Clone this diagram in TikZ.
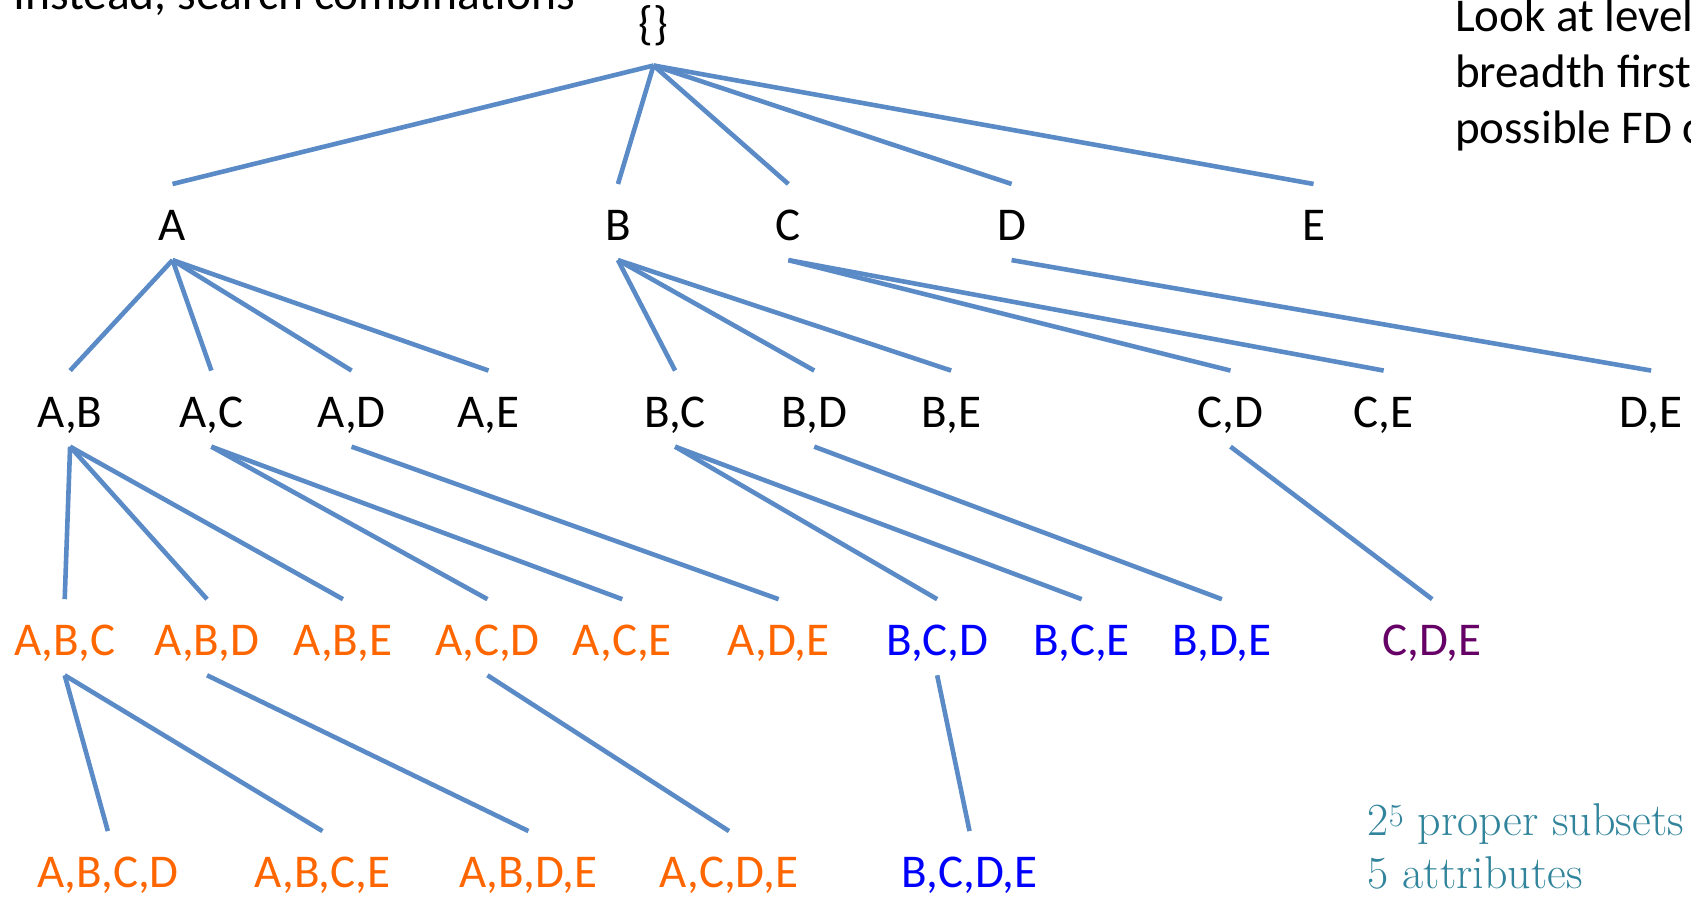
\documentclass[tikz,border=0pt]{standalone}
\usepackage{fontspec}
\setmainfont{Carlito}
\newfontfamily\garfont{Latin Modern Roman}
\definecolor{edgeblue}{HTML}{5B8BC6}
\definecolor{lorange}{HTML}{FF6600}
\definecolor{lblue}{HTML}{0000FF}
\definecolor{lpurple}{HTML}{660066}
\definecolor{lteal}{HTML}{31849B}
\newcommand\edge[2]{\draw[edge] ([yshift=-19.4pt]#1.south) -- ([yshift=26pt]#2.north);}
\begin{document}
\begin{tikzpicture}[x=1.0784pt,y=-1.0784pt,
  lbl/.style={anchor=base,inner sep=0pt,text height=30.3pt,text depth=0pt,font=\fontsize{47}{56}\selectfont},
  orng/.style={lbl,text=lorange},
  blu/.style={lbl,text=lblue},
  purp/.style={lbl,text=lpurple},
  edge/.style={draw=edgeblue,line width=4.6pt},
  note/.style={anchor=base west,inner sep=0pt,align=left}]
\useasboundingbox (0,0) rectangle (1568,833);
\clip (0,0) rectangle (1568,833);
% notes
\node[note,font=\fontsize{47.5}{56}\selectfont] (n1) at (12,9) {Instead, search combinations};
\node[note,font=\fontsize{47}{55.5}\selectfont] (n2) at (1349,132.6) {Look at levels\\breadth first\\possible FD c};
\node[note,font=\garfont\fontsize{46}{50}\selectfont,text=lteal] (n3) at (1268,775) {2\textsuperscript{5} proper subsets};
\node[note,font=\garfont\fontsize{46}{50}\selectfont,text=lteal] (n4) at (1268,824) {5 attributes};
% root
\node[lbl,text depth=6pt] (r) at (606,37) {\{\}};
% level 1
\node[lbl] (A) at (160,223) {A};
\node[lbl] (B) at (573,223) {B};
\node[lbl] (C) at (731,223) {C};
\node[lbl] (D) at (938,223) {D};
\node[lbl] (E) at (1218,223) {E};
% level 2
\node[lbl] (AB) at (65,396) {A,B};
\node[lbl] (AC) at (196,396) {A,C};
\node[lbl] (AD) at (326,396) {A,D};
\node[lbl] (AE) at (453,396) {A,E};
\node[lbl] (BC) at (626,396) {B,C};
\node[lbl] (BD) at (755,396) {B,D};
\node[lbl] (BE) at (882,396) {B,E};
\node[lbl] (CD) at (1141,396) {C,D};
\node[lbl] (CE) at (1283,396) {C,E};
\node[lbl] (DE) at (1531,396) {D,E};
% level 3
\node[orng] (ABC) at (60,608) {A,B,C};
\node[orng] (ABD) at (192,608) {A,B,D};
\node[orng] (ABE) at (318,608) {A,B,E};
\node[orng] (ACD) at (452,608) {A,C,D};
\node[orng] (ACE) at (577,608) {A,C,E};
\node[orng] (ADE) at (722,608) {A,D,E};
\node[blu] (BCD) at (869,608) {B,C,D};
\node[blu] (BCE) at (1003,608) {B,C,E};
\node[blu] (BDE) at (1133,608) {B,D,E};
\node[purp] (CDE) at (1328,608) {C,D,E};
% level 4
\node[orng] (ABCD) at (100,823) {A,B,C,D};
\node[orng] (ABCE) at (299,823) {A,B,C,E};
\node[orng] (ABDE) at (490,823) {A,B,D,E};
\node[orng] (ACDE) at (676,823) {A,C,D,E};
\node[blu] (BCDE) at (899,823) {B,C,D,E};
% edges
\edge{r}{A}\edge{r}{B}\edge{r}{C}\edge{r}{D}\edge{r}{E}
\edge{A}{AB}\edge{A}{AC}\edge{A}{AD}\edge{A}{AE}
\edge{B}{BC}\edge{B}{BD}\edge{B}{BE}
\edge{C}{CD}\edge{C}{CE}
\edge{D}{DE}
\edge{AB}{ABC}\edge{AB}{ABD}\edge{AB}{ABE}
\edge{AC}{ACD}\edge{AC}{ACE}
\edge{AD}{ADE}
\edge{BC}{BCD}\edge{BC}{BCE}
\edge{BD}{BDE}
\edge{CD}{CDE}
\edge{ABC}{ABCD}\edge{ABC}{ABCE}
\edge{ABD}{ABDE}
\edge{ACD}{ACDE}
\edge{BCD}{BCDE}
\end{tikzpicture}
\end{document}
